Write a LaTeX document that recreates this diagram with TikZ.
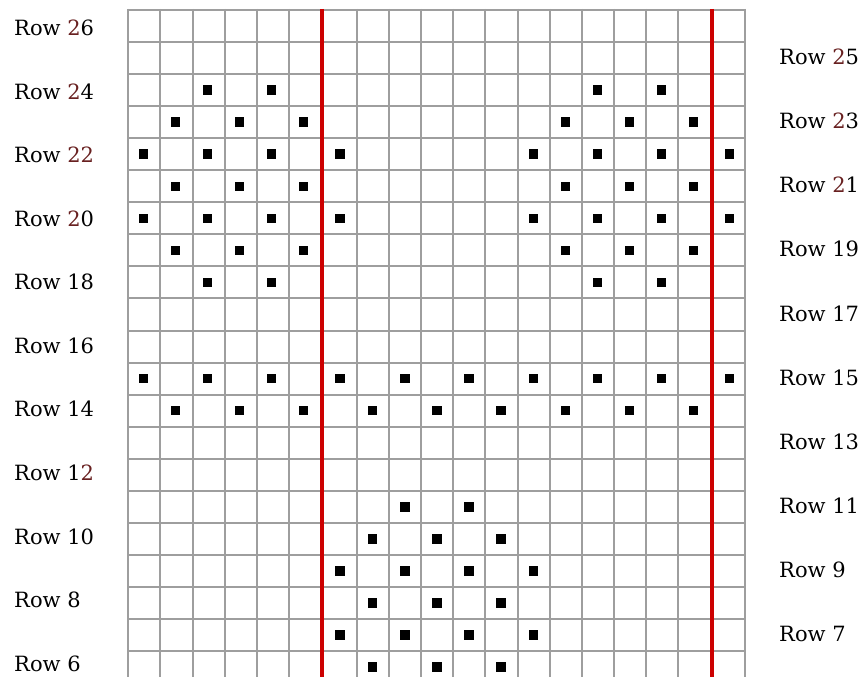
\documentclass[tikz,border=0pt]{standalone}
\usepackage{fontspec}
\setmainfont{DejaVu Serif}
\usepackage{tikz}
\usepackage{xcolor}

\definecolor{gridgray}{RGB}{158,158,158}
\definecolor{dividerred}{RGB}{204,0,0}
\definecolor{twored}{RGB}{104,32,32}
\newcommand{\tw}{\textcolor{twored}{2}}

\tikzset{
  rowlabel/.style={font=\fontsize{21}{25}\selectfont, inner sep=0pt, anchor=west},
  gridline/.style={gridgray, line width=2pt},
  divider/.style={dividerred, line width=4pt},
  stitch/.style={fill=black, minimum size=9.5pt, inner sep=0pt}
}

\begin{document}
\begin{tikzpicture}[x=1pt, y=-1pt]
\useasboundingbox (0,0) rectangle (868,677);
\clip (0,0) rectangle (868,677);

% horizontal lines of the chart
\foreach \j in {0,...,21}
  \draw[gridline] (128.3,{10+32.05*\j}) -- (745.2,{10+32.05*\j});

% vertical lines, the two red ones drawn last
\foreach \x in {128.3,160.4,192.5,224.6,256.7,288.8,357.0,389.1,421.2,453.3,485.4,517.5,549.6,581.7,613.8,645.9,678.0,745.2}
  \draw[gridline] (\x,9) -- (\x,690);
\draw[divider] (322.4,9) -- (322.4,690);
\draw[divider] (711.6,9) -- (711.6,690);

% stitches: row of chart / columns
\foreach \j/\cols in {
  3/{3,5,15,17},
  4/{2,4,6,14,16,18},
  5/{1,3,5,7,13,15,17,19},
  6/{2,4,6,14,16,18},
  7/{1,3,5,7,13,15,17,19},
  8/{2,4,6,14,16,18},
  9/{3,5,15,17},
  12/{1,3,5,7,9,11,13,15,17,19},
  13/{2,4,6,8,10,12,14,16,18},
  16/{9,11},
  17/{8,10,12},
  18/{7,9,11,13},
  19/{8,10,12},
  20/{7,9,11,13},
  21/{8,10,12}}
{
  \foreach \c in \cols {
    \pgfmathsetmacro{\cx}{{0,143.5,175.5,207.5,239.5,271.5,303.5,340,372.5,405,437,469,501,533.5,565.5,597.5,629.5,661.5,693.5,729.5}[\c]}
    \node[stitch] (s-\j-\c) at (\cx,{10+32.05*(\j-0.5)}) {};
  }
}

% row numbers, left side
\foreach \k/\t in {0/{Row \tw6}, 1/{Row \tw4}, 2/{Row \tw\tw}, 3/{Row \tw0},
  4/{Row 18}, 5/{Row 16}, 6/{Row 14}, 7/{Row 1\tw}, 8/{Row 10}, 9/{Row 8}, 10/{Row 6}}
  \node[rowlabel] (left-\k) at (14,{28+63.55*\k}) {\t};

% row numbers, right side
\foreach \k/\t in {0/{Row \tw5}, 1/{Row \tw3}, 2/{Row \tw1}, 3/{Row 19},
  4/{Row 17}, 5/{Row 15}, 6/{Row 13}, 7/{Row 11}, 8/{Row 9}, 9/{Row 7}}
  \node[rowlabel] (right-\k) at (779,{57+64.1*\k}) {\t};
\end{tikzpicture}
\end{document}
